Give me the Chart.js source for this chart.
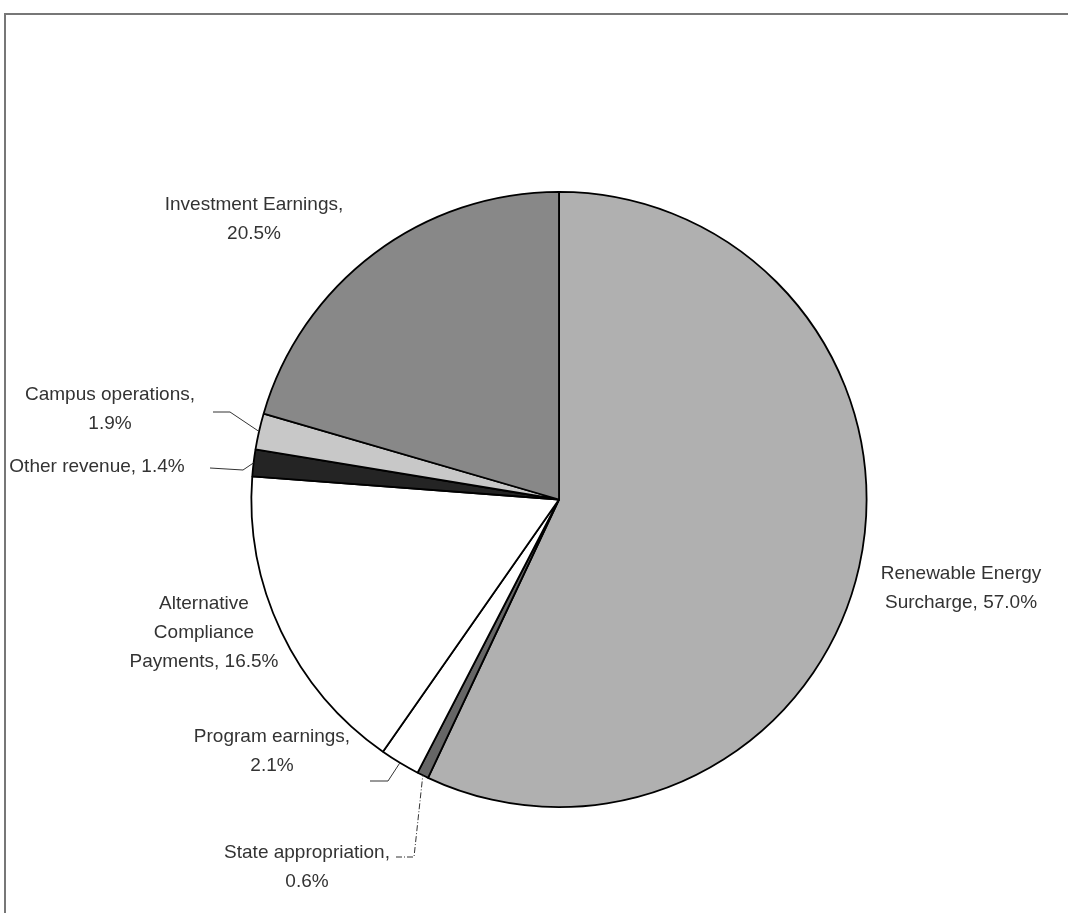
<!DOCTYPE html>
<html>
<head>
<meta charset="utf-8">
<script src="https://cdn.jsdelivr.net/npm/chart.js@4/dist/chart.umd.min.js"></script>
<style>
  html, body { margin: 0; padding: 0; background: #fff; }
  #wrap { width: 1068px; height: 913px; position: relative; }
</style>
</head>
<body>
<div id="wrap"><canvas id="pie"></canvas></div>
<script>
// data (percent of revenue)
const categories = [
    'Renewable Energy Surcharge',
    'State appropriation',
    'Program earnings',
    'Alternative Compliance Payments',
    'Other revenue',
    'Campus operations',
    'Investment Earnings'
];
const shares = [57.0, 0.6, 2.1, 16.5, 1.4, 1.9, 20.5];
const labelLines = [
    ['Renewable Energy', 'Surcharge, 57.0%'],
    ['State appropriation,', '0.6%'],
    ['Program earnings,', '2.1%'],
    ['Alternative', 'Compliance', 'Payments, 16.5%'],
    ['Other revenue, 1.4%'],
    ['Campus operations,', '1.9%'],
    ['Investment Earnings,', '20.5%']
];

const sliceColors = ['#b0b0b0', '#666666', '#ffffff', '#ffffff', '#242424', '#c8c8c8', '#888888'];

// label placement (text centre of first line) and optional leader elbow
const labelPlace = [
    { x: 961, y: 574 },
    { x: 307, y: 853, leader: [[396, 857], [414, 857]], dashed: true },
    { x: 272, y: 737, leader: [[370, 781], [388, 781]] },
    { x: 204, y: 604 },
    { x: 97, y: 467, leader: [[210, 468], [243, 470]] },
    { x: 110, y: 395, leader: [[213, 412], [230, 412]] },
    { x: 254, y: 205 }
];

const pieLabels = {
    id: 'pieLabels',
    afterDatasetsDraw(chart) {
        const ctx = chart.ctx;
        const meta = chart.getDatasetMeta(0);
        ctx.save();
        // frame
        ctx.strokeStyle = '#777';
        ctx.lineWidth = 2;
        ctx.beginPath();
        ctx.moveTo(1068, 14);
        ctx.lineTo(5, 14);
        ctx.lineTo(5, 913);
        ctx.stroke();

        ctx.font = '19px "Liberation Sans", Arial, sans-serif';
        ctx.fillStyle = '#333';
        ctx.textAlign = 'center';
        ctx.textBaseline = 'middle';
        meta.data.forEach((arc, i) => {
            const p = labelPlace[i];
            labelLines[i].forEach((t, k) => ctx.fillText(t, p.x, p.y + k * 29));
            if (p.leader) {
                const mid = (arc.startAngle + arc.endAngle) / 2;
                const ex = arc.x + Math.cos(mid) * arc.outerRadius;
                const ey = arc.y + Math.sin(mid) * arc.outerRadius;
                ctx.strokeStyle = '#333';
                ctx.lineWidth = 1;
                ctx.setLineDash(p.dashed ? [6, 2, 1, 2] : []);
                ctx.beginPath();
                ctx.moveTo(p.leader[0][0], p.leader[0][1]);
                for (let k = 1; k < p.leader.length; k++) ctx.lineTo(p.leader[k][0], p.leader[k][1]);
                ctx.lineTo(ex, ey);
                ctx.stroke();
                ctx.setLineDash([]);
            }
        });
        ctx.restore();
    }
};

new Chart(document.getElementById('pie'), {
    type: 'pie',
    data: {
        labels: categories,
        datasets: [{
            data: shares,
            backgroundColor: sliceColors,
            borderColor: '#000',
            borderWidth: 1.8
        }]
    },
    options: {
        responsive: true,
        maintainAspectRatio: false,
        animation: false,
        layout: { padding: { left: 250, right: 200, top: 191, bottom: 105 } },
        plugins: {
            legend: { display: false },
            tooltip: { enabled: false }
        }
    },
    plugins: [pieLabels]
});
</script>
</body>
</html>
